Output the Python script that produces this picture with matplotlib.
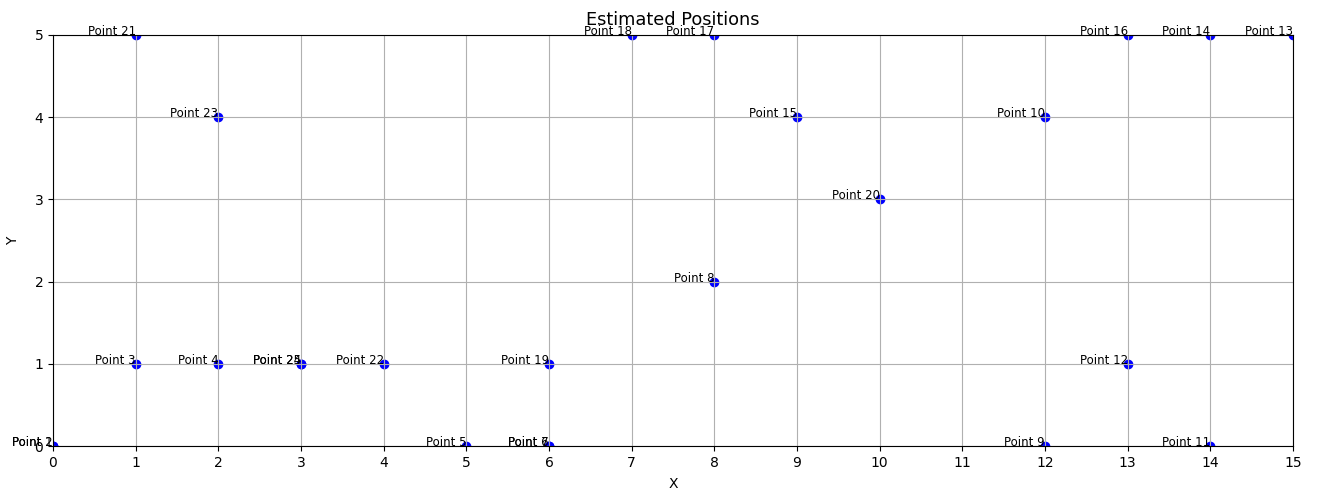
import matplotlib
matplotlib.use("Agg")
import matplotlib.pyplot as plt

# Estimated (x, y) positions for each labelled point
labels = [f"Point {i}" for i in range(1, 26)]
xs = [0, 0, 1, 2, 5, 6, 6, 8, 12, 12, 14, 13, 15, 14, 9, 13, 8, 7, 6, 10, 1, 4, 2, 3, 3]
ys = [0, 0, 1, 1, 0, 0, 0, 2, 0, 4, 0, 1, 5, 5, 4, 5, 5, 5, 1, 3, 5, 1, 4, 1, 1]

fig = plt.figure(figsize=(13.18, 4.92), dpi=100)
ax = fig.add_axes([53 / 1318, 1 - 446 / 492, (1293 - 53) / 1318, (446 - 35) / 492])

ax.scatter(xs, ys, color="blue")
for x, y, name in zip(xs, ys, labels):
    ax.text(x, y, name, fontsize=8.5, ha="right")

ax.set_xlim(0, 15)
ax.set_ylim(0, 5)
ax.set_xticks(range(0, 16))
ax.set_yticks(range(0, 6))
ax.set_xlabel("X", labelpad=5.5)
ax.set_ylabel("Y", labelpad=10)
ax.set_title("Estimated Positions", fontsize=12.8, pad=7.5)
ax.grid(True)

fig.savefig("out.png", dpi=100)
